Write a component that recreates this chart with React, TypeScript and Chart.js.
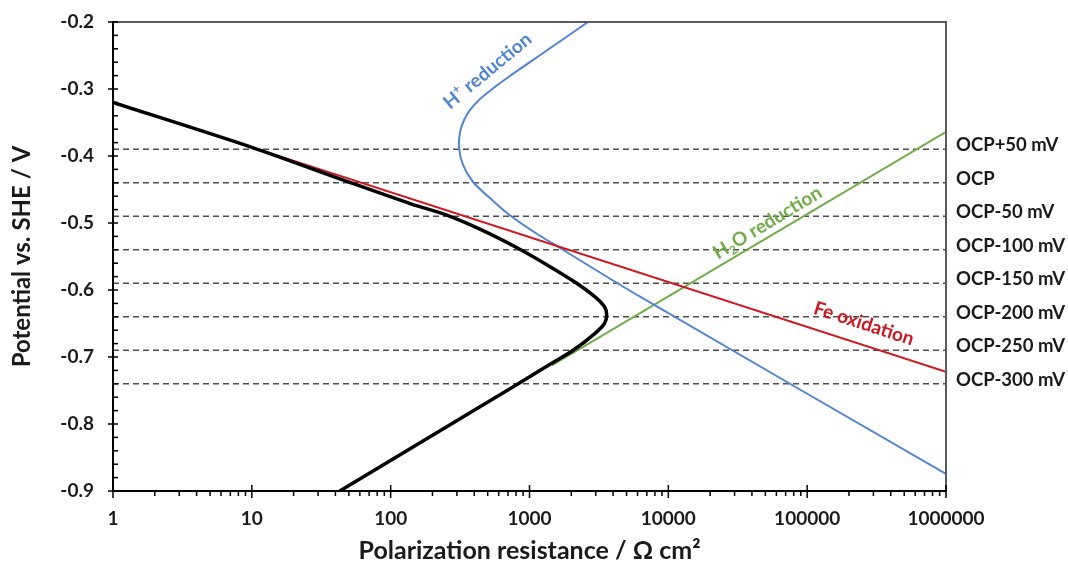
import React, { useEffect, useRef } from "react";
import { Chart, registerables } from "chart.js";

Chart.register(...registerables);

const FONT = "Lato, 'Open Sans', sans-serif";

// Axis ranges and tick values
const X_MIN = 1;
const X_MAX = 1000000;
const X_DECADES = [1, 10, 100, 1000, 10000, 100000, 1000000];
const Y_MIN = -0.9;
const Y_MAX = -0.2;

// Fe oxidation (anodic Tafel branch)
const feR = [1, 1000000];
const feE = [-0.32, -0.722];

// H2O reduction
const h2oR = [1450, 1000000];
const h2oE = [-0.7126, -0.364];

// H+ reduction
const hR = [2640, 1348, 689, 528, 433, 373, 338, 316, 311, 332, 392, 519, 689, 1025, 1659, 6252, 1000000];
const hE = [-0.2, -0.2418, -0.2836, -0.3015, -0.3164, -0.3313, -0.3463, -0.3642, -0.3881, -0.4134, -0.4388, -0.4627, -0.4851, -0.5104, -0.5373, -0.61, -0.8746];

// Total polarization resistance
const totR = [1, 10, 45.7, 138, 251, 447, 813, 1349, 2188, 2951, 3467, 3597, 3467, 2951, 2065, 1540, 1170, 813, 530, 43];
const totE = [-0.32, -0.387, -0.436, -0.471, -0.488, -0.51, -0.537, -0.563, -0.59, -0.61, -0.625, -0.637, -0.65, -0.665, -0.69, -0.706, -0.721, -0.741, -0.764, -0.9];

// Reference potentials around the open circuit potential
const OCP_LEVELS = [-0.39, -0.44, -0.49, -0.54, -0.59, -0.64, -0.69, -0.74];
const OCP_LABELS = ["OCP+50 mV", "OCP", "OCP-50 mV", "OCP-100 mV", "OCP-150 mV", "OCP-200 mV", "OCP-250 mV", "OCP-300 mV"];

// Curve names: text pieces (0 normal, 1 superscript, -1 subscript) and anchor in data units
const LABEL_TEXTS = [
  [["H", 0], ["+", 1], [" reduction", 0]],
  [["H", 0], ["2", -1], ["O reduction", 0]],
  [["Fe oxidation", 0]],
];
const LABEL_R = [494, 51400, 257000];
const LABEL_E = [-0.272, -0.4985, -0.649];

const BLACK = "#000000";
const RED = "#d0161e";
const BLUE = "#4f84d6";
const GREEN = "#70ad47";
const LABEL_COLORS = [BLUE, GREEN, RED];
const LABEL_ANGLES = [-39.5, -31, 18];

const zip = (xs: number[], ys: number[]) => xs.map((x, i) => ({ x, y: ys[i] }));

const axisDecor = {
  id: "axisDecor",
  afterDatasetsDraw(chart: any) {
    const { ctx, chartArea: a, scales } = chart;
    const xs = scales.x;
    const ys = scales.y;
    ctx.save();
    ctx.lineCap = "butt";

    // frame: top and right in grey
    ctx.strokeStyle = "#595959";
    ctx.lineWidth = 2;
    ctx.beginPath();
    ctx.moveTo(a.left, a.top);
    ctx.lineTo(a.right, a.top);
    ctx.lineTo(a.right, a.bottom);
    ctx.stroke();

    // axes
    ctx.strokeStyle = "#000";
    ctx.lineWidth = 2;
    ctx.beginPath();
    ctx.moveTo(a.left, a.top - 1);
    ctx.lineTo(a.left, a.bottom);
    ctx.lineTo(a.right + 1, a.bottom);
    ctx.stroke();

    // y ticks: major every 0.1, minor every 0.02
    ctx.lineWidth = 1.5;
    const nMinor = Math.round((Y_MAX - Y_MIN) / 0.02);
    for (let k = 0; k <= nMinor; k++) {
      const v = Y_MIN + k * 0.02;
      const py = ys.getPixelForValue(v);
      const major = k % 5 === 0;
      ctx.beginPath();
      ctx.moveTo(a.left - (major ? 5 : 0), py);
      ctx.lineTo(a.left + 5, py);
      ctx.stroke();
    }

    // x ticks: decades crossing, minor below the axis
    for (let d = 0; d < X_DECADES.length; d++) {
      const dec = X_DECADES[d];
      const px = xs.getPixelForValue(dec);
      ctx.beginPath();
      ctx.moveTo(px, a.bottom - 6);
      ctx.lineTo(px, a.bottom + 7);
      ctx.stroke();
      if (d < X_DECADES.length - 1) {
        for (let m = 2; m <= 9; m++) {
          const p = xs.getPixelForValue(dec * m);
          ctx.beginPath();
          ctx.moveTo(p, a.bottom);
          ctx.lineTo(p, a.bottom + 5);
          ctx.stroke();
        }
      }
    }
    ctx.restore();
  },
  afterDraw(chart: any) {
    const { ctx, chartArea: a, scales } = chart;
    const xs = scales.x;
    const ys = scales.y;
    ctx.save();

    // OCP labels at the right of the plot
    ctx.fillStyle = "#1a1a1a";
    ctx.font = `bold 18.5px ${FONT}`;
    ctx.textAlign = "left";
    ctx.textBaseline = "middle";
    OCP_LEVELS.forEach((v, i) => {
      ctx.fillText(OCP_LABELS[i], a.right + 10, ys.getPixelForValue(v) - 4);
    });

    // curve names along their lines
    LABEL_TEXTS.forEach((parts, i) => {
      const px = xs.getPixelForValue(LABEL_R[i]);
      const py = ys.getPixelForValue(LABEL_E[i]);
      const base = 19;
      const small = 12;
      const widths = parts.map(([t, s]) => {
        ctx.font = `bold ${s === 0 ? base : small}px ${FONT}`;
        return ctx.measureText(t as string).width;
      });
      const total = widths.reduce((p, w) => p + w, 0);
      ctx.save();
      ctx.translate(px, py);
      ctx.rotate((LABEL_ANGLES[i] * Math.PI) / 180);
      ctx.fillStyle = LABEL_COLORS[i];
      ctx.textBaseline = "alphabetic";
      ctx.textAlign = "left";
      let cx = -total / 2;
      parts.forEach(([t, s], j) => {
        ctx.font = `bold ${s === 0 ? base : small}px ${FONT}`;
        const dy = s === 1 ? -8 : s === -1 ? 4 : 0;
        ctx.fillText(t as string, cx, 7 + dy);
        cx += widths[j];
      });
      ctx.restore();
    });
    ctx.restore();
  },
};

export default function App() {
  const ref = useRef<HTMLCanvasElement | null>(null);

  useEffect(() => {
    if (!ref.current) return;
    const curve = (label: string, data: any[], color: string, width: number, tension: number) => ({
      label,
      data,
      borderColor: color,
      borderWidth: width,
      pointRadius: 0,
      fill: false,
      tension,
    });
    const datasets: any[] = [
      curve("Total", zip(totR, totE), BLACK, 3.5, 0.3),
      curve("Fe oxidation", zip(feR, feE), RED, 2, 0),
      curve("H+ reduction", zip(hR, hE), BLUE, 2, 0.3),
      curve("H2O reduction", zip(h2oR, h2oE), GREEN, 2, 0),
      ...OCP_LEVELS.map((v, i) => ({
        label: OCP_LABELS[i],
        data: [
          { x: X_MIN, y: v },
          { x: X_MAX, y: v },
        ],
        borderColor: "#4d4d4d",
        borderWidth: 1.5,
        borderDash: [6, 4],
        pointRadius: 0,
        fill: false,
      })),
    ];

    const chart = new Chart(ref.current, {
      type: "line",
      data: { datasets },
      plugins: [axisDecor],
      options: {
        animation: false,
        responsive: false,
        layout: { padding: { left: 0, top: 22, right: 122, bottom: 0 } },
        plugins: { legend: { display: false }, tooltip: { enabled: false } },
        scales: {
          x: {
            type: "logarithmic",
            min: X_MIN,
            max: X_MAX,
            grid: { display: false, drawTicks: false },
            border: { display: false },
            afterBuildTicks: (scale: any) => {
              scale.ticks = X_DECADES.map((value) => ({ value }));
            },
            afterFit: (scale: any) => {
              scale.height = 77;
            },
            ticks: {
              autoSkip: false,
              maxRotation: 0,
              padding: 16,
              color: "#1a1a1a",
              font: { family: FONT, size: 19, weight: "bold" },
              callback: (v: any) => String(v),
            },
            title: {
              display: true,
              text: "Polarization resistance / Ω cm²",
              color: "#1a1a1a",
              font: { family: FONT, size: 25, weight: "bold", lineHeight: 1.2 },
              padding: { top: 0, bottom: 2 },
            },
          },
          y: {
            type: "linear",
            min: Y_MIN,
            max: Y_MAX,
            grid: { display: false, drawTicks: true, tickLength: 19 },
            border: { display: false },
            afterFit: (scale: any) => {
              scale.width = 113;
            },
            ticks: {
              stepSize: 0.1,
              padding: 0,
              color: "#1a1a1a",
              font: { family: FONT, size: 19, weight: "bold" },
              callback: (v: any) => Number(v).toFixed(1),
            },
            title: {
              display: true,
              text: "Potential vs. SHE / V",
              color: "#1a1a1a",
              font: { family: FONT, size: 24, weight: "bold", lineHeight: 1.2 },
              padding: { top: 8, bottom: 0 },
            },
          },
        },
      },
    } as any);
    return () => chart.destroy();
  }, []);

  return (
    <div style={{ position: "absolute", left: 0, top: 0, width: 1068, height: 568, background: "#fff" }}>
      <canvas ref={ref} width={1068} height={568} />
    </div>
  );
}
